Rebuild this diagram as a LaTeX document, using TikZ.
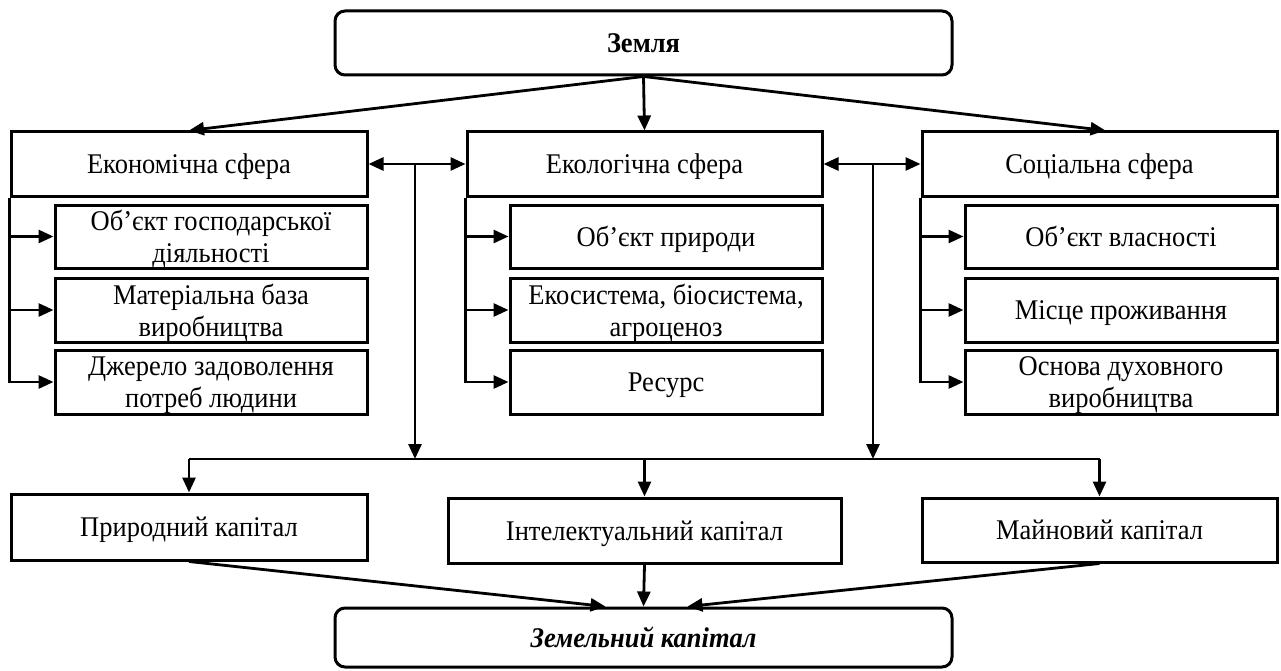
\documentclass[tikz,border=0pt]{standalone}
\usepackage{fontspec}
\setmainfont{Liberation Serif}[FakeStretch=0.93]
\usetikzlibrary{arrows.meta}
\begin{document}
\begin{tikzpicture}[x=1pt,y=-1pt,
  every node/.style={font=\fontsize{28.5}{32}\selectfont, text depth=0pt},
  box/.style={draw, line width=3pt, inner sep=0pt, align=center},
  rbox/.style={box, rounded corners=10pt},
  ln/.style={line width=2.8pt},
  arr/.style={ln, -{Triangle[length=15pt,width=13pt]}},
  darr/.style={ln, {Triangle[length=15pt,width=13pt]}-{Triangle[length=15pt,width=13pt]}}
]
\useasboundingbox (0,0) rectangle (1281,671);
% top and bottom
\node[rbox, minimum width=617pt, minimum height=64pt] (zem) at (643.5,43) {\textbf{Земля}};
\node[rbox, minimum width=617pt, minimum height=59pt] (zk) at (643.5,637.5) {\textbf{\textit{Земельний капітал}}};
% spheres
\node[box, minimum width=356pt, minimum height=64pt] (econ) at (189,164) {Економічна сфера};
\node[box, minimum width=355pt, minimum height=64pt] (ecol) at (644.5,164) {Екологічна сфера};
\node[box, minimum width=355pt, minimum height=64pt] (soc) at (1099.5,164) {Соціальна сфера};
% sub boxes
\node[box, minimum width=312pt, minimum height=63pt] (e1) at (211,236.5) {Об’єкт господарської\\діяльності};
\node[box, minimum width=312pt, minimum height=64pt] (e2) at (211,310) {Матеріальна база\\виробництва};
\node[box, minimum width=312pt, minimum height=64pt] (e3) at (211,382) {Джерело задоволення\\потреб людини};
\node[box, minimum width=312pt, minimum height=63pt] (g1) at (666,236.5) {Об’єкт природи};
\node[box, minimum width=312pt, minimum height=64pt] (g2) at (666,310) {Екосистема, біосистема,\\агроценоз};
\node[box, minimum width=312pt, minimum height=64pt] (g3) at (666,382) {Ресурс};
\node[box, minimum width=312pt, minimum height=63pt] (s1) at (1121,236.5) {Об’єкт власності};
\node[box, minimum width=312pt, minimum height=64pt] (s2) at (1121,310) {Місце проживання};
\node[box, minimum width=312pt, minimum height=64pt] (s3) at (1121,382) {Основа духовного\\виробництва};
% capitals
\node[box, minimum width=356pt, minimum height=66pt] (pk) at (189,527) {Природний капітал};
\node[box, minimum width=393pt, minimum height=65pt] (ik) at (644.5,530.5) {Інтелектуальний капітал};
\node[box, minimum width=355pt, minimum height=64pt] (mk) at (1099.5,530) {Майновий капітал};
% coordinates
\coordinate (j1) at (415,164);
\coordinate (j2) at (873,164);
\coordinate (h1) at (415,459);
\coordinate (h2) at (873,459);
\coordinate (hl) at (189,459);
\coordinate (hr) at (1099.5,459);
\coordinate (hm) at (644.5,459);
% arrows from top
\draw[arr] (zem.south) -- (econ.north);
\draw[arr] (zem.south) -- (ecol.north);
\draw[arr] (zem.south) -- ([xshift=6pt]soc.north);
% double arrows
\draw[darr] (econ.east) -- (ecol.west);
\draw[darr] (ecol.east) -- (soc.west);
\draw[arr] (j1) -- (h1);
\draw[arr] (j2) -- (h2);
% horizontal distribution
\draw[ln] (hl) -- (hr);
\draw[arr] (hl) -- (pk.north);
\draw[arr] (hm) -- (ik.north);
\draw[arr] (hr) -- (mk.north);
% sub arrows
\draw[arr] (econ.south west) |- (e3.west);
\draw[arr] (e1.west -| econ.west) -- (e1.west);
\draw[arr] (e2.west -| econ.west) -- (e2.west);
\draw[arr] (ecol.south west) |- (g3.west);
\draw[arr] (g1.west -| ecol.west) -- (g1.west);
\draw[arr] (g2.west -| ecol.west) -- (g2.west);
\draw[arr] (soc.south west) |- (s3.west);
\draw[arr] (s1.west -| soc.west) -- (s1.west);
\draw[arr] (s2.west -| soc.west) -- (s2.west);
% to land capital
\draw[arr] (pk.south) -- ([xshift=-38pt]zk.north);
\draw[arr] (ik.south) -- (zk.north);
\draw[arr] (mk.south) -- ([xshift=44pt]zk.north);
\end{tikzpicture}
\end{document}
